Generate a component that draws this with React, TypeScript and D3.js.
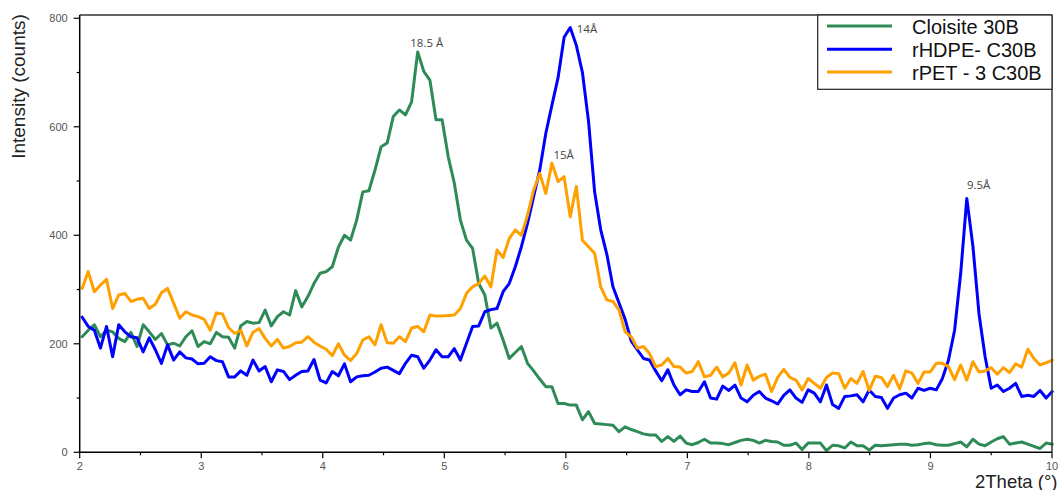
import React from "react";
import * as d3 from "d3";

// Scan definition (2Theta, degrees)
const SCAN_START = 2.02;
const SCAN_STEP = 0.0502;

const seriesNames = ["Cloisite 30B", "rHDPE- C30B", "rPET - 3 C30B"];
const seriesColors = ["#2E8B57", "#0000FF", "#FFA000"];

const cloisite = [
  213, 225, 235, 213, 225, 222, 210, 204, 221, 195, 235, 222, 208, 219, 198, 201, 196, 213, 224, 195,
  204, 200, 221, 213, 212, 192, 233, 241, 238, 239, 262, 233, 250, 259, 253, 298, 268, 287, 311, 330,
  333, 342, 378, 400, 391, 428, 480, 482, 520, 563, 570, 619, 631, 622, 646, 738, 702, 686, 613, 613,
  545, 496, 428, 391, 376, 311, 290, 229, 238, 207, 173, 184, 195, 164, 150, 135, 121, 121, 90, 90,
  87, 87, 60, 75, 53, 52, 51, 50, 38, 47, 42, 38, 34, 32, 32, 20, 29, 20, 30, 17,
  14, 18, 24, 17, 17, 16, 14, 18, 22, 24, 22, 17, 22, 20, 19, 13, 13, 17, 5, 17,
  17, 17, 3, 13, 12, 8, 19, 12, 12, 4, 13, 12, 13, 14, 15, 15, 13, 14, 16, 17,
  14, 13, 13, 16, 19, 10, 24, 15, 12, 19, 25, 29, 15, 17, 19, 15, 11, 7, 17, 15,
];

const rhdpe = [
  249, 232, 225, 192, 232, 176, 235, 222, 213, 211, 185, 211, 189, 164, 198, 170, 185, 174, 172, 163,
  164, 176, 169, 167, 139, 139, 150, 142, 170, 150, 158, 130, 152, 149, 134, 142, 149, 150, 171, 133,
  128, 149, 141, 163, 130, 139, 141, 142, 148, 155, 157, 151, 145, 164, 179, 176, 155, 170, 189, 176,
  176, 191, 170, 201, 232, 233, 259, 263, 265, 296, 311, 342, 379, 422, 471, 520, 588, 640, 690, 765,
  783, 750, 700, 610, 480, 410, 365, 305, 275, 245, 205, 189, 173, 170, 150, 132, 152, 124, 106, 115,
  112, 112, 130, 100, 98, 122, 114, 124, 100, 93, 105, 112, 100, 95, 89, 105, 115, 100, 92, 115,
  109, 93, 124, 88, 81, 103, 104, 106, 93, 115, 103, 101, 81, 100, 106, 109, 100, 118, 114, 118,
  115, 136, 170, 225, 330, 468, 380, 255, 176, 118, 124, 112, 118, 127, 103, 105, 103, 114, 100, 112,
];

const rpet = [
  302, 333, 296, 308, 319, 265, 290, 293, 278, 282, 284, 265, 273, 294, 302, 275, 247, 259, 253, 250,
  245, 225, 257, 255, 230, 219, 225, 196, 221, 228, 210, 196, 208, 192, 195, 202, 203, 213, 203, 196,
  190, 178, 200, 179, 169, 182, 207, 213, 198, 235, 202, 201, 213, 204, 229, 232, 222, 253, 251, 251,
  252, 253, 265, 293, 305, 311, 325, 305, 373, 359, 394, 410, 400, 437, 483, 514, 477, 533, 499, 508,
  434, 490, 391, 379, 367, 305, 281, 278, 262, 222, 213, 192, 195, 182, 158, 161, 173, 158, 157, 146,
  149, 167, 139, 142, 157, 139, 146, 165, 124, 161, 133, 140, 144, 112, 138, 153, 138, 133, 115, 136,
  127, 118, 138, 146, 145, 118, 136, 127, 149, 114, 140, 138, 121, 142, 117, 150, 146, 127, 148, 148,
  164, 164, 158, 134, 161, 133, 167, 148, 150, 156, 144, 156, 147, 163, 157, 190, 173, 161, 165, 170,
];

const allSeries = [cloisite, rhdpe, rpet];

const yTicks = [0, 200, 400, 600, 800];
const yMinorTicks = [100, 300, 500, 700];
const xTicks = [2, 3, 4, 5, 6, 7, 8, 9, 10];
const xMinorTicks = [2.5, 3.5, 4.5, 5.5, 6.5, 7.5, 8.5, 9.5];

const annotationTexts = ["18.5 Å", "14Å", "15Å", "9.5Å"];
const annotationX = [4.856, 6.09, 5.898, 9.3];
const annotationY = [747, 773, 541, 485];
const annotationAnchor = ["middle", "start", "start", "start"];

const xLabel = "2Theta (°)";
const yLabel = "Intensity (counts)";

export default function App() {
  const W = 1058;
  const H = 490;
  const left = 79.7;
  const right = 1052;
  const top = 15;
  const bottom = 452.3;

  const x = d3.scaleLinear().domain([2, 10]).range([left, right]);
  const y = d3.scaleLinear().domain([0, 806]).range([bottom, top]);

  const line = d3
    .line<number>()
    .x((_, i) => x(SCAN_START + i * SCAN_STEP))
    .y((d) => y(d));

  const tickFont = "Liberation Sans, Arial, sans-serif";
  const legendX = 817.7;
  const legendBottom = 89.3;
  const legendRowY = [26, 49.3, 72];
  const legendTextY = [34, 57, 79.5];

  return (
    <svg
      width={W}
      height={H}
      style={{ position: "absolute", left: 0, top: 0, background: "#fff" }}
    >
      <rect x={0} y={0} width={W} height={H} fill="#fff" />
      {/* data lines */}
      <g fill="none" strokeWidth={3} strokeLinejoin="round" strokeLinecap="round">
        {allSeries.map((s, i) => (
          <path key={i} d={line(s) || ""} stroke={seriesColors[i]} />
        ))}
      </g>

      {/* frame top/right */}
      <line x1={left} x2={right} y1={top} y2={top} stroke="#333" strokeWidth={1.5} />
      <line x1={right} x2={right} y1={top} y2={bottom} stroke="#333" strokeWidth={1.5} />

      {/* axes */}
      <line x1={left} x2={left} y1={top} y2={bottom} stroke="#000" strokeWidth={1.5} />
      <line x1={left} x2={right} y1={bottom} y2={bottom} stroke="#000" strokeWidth={1.5} />

      {yTicks.map((t) => (
        <g key={"y" + t}>
          <line x1={left - 6} x2={left} y1={y(t)} y2={y(t)} stroke="#000" strokeWidth={1.2} />
          <text
            x={left - 12}
            y={y(t)}
            dy="0.35em"
            textAnchor="end"
            fontSize={11}
            fill="#555"
            fontFamily={tickFont}
          >
            {t}
          </text>
        </g>
      ))}
      {yMinorTicks.map((t) => (
        <line key={"ym" + t} x1={left - 3} x2={left} y1={y(t)} y2={y(t)} stroke="#000" strokeWidth={1.2} />
      ))}
      {xTicks.map((t) => (
        <g key={"x" + t}>
          <line x1={x(t)} x2={x(t)} y1={bottom} y2={bottom + 6} stroke="#000" strokeWidth={1.2} />
          <text
            x={x(t)}
            y={bottom + 14}
            dy="0.35em"
            textAnchor="middle"
            fontSize={11}
            fill="#555"
            fontFamily={tickFont}
          >
            {t}
          </text>
        </g>
      ))}
      {xMinorTicks.map((t) => (
        <line key={"xm" + t} x1={x(t)} x2={x(t)} y1={bottom} y2={bottom + 3} stroke="#000" strokeWidth={1.2} />
      ))}

      {/* axis titles */}
      <text
        transform={`translate(25,86.5) rotate(-90)`}
        textAnchor="middle"
        fontSize={19}
        fill="#222"
        fontFamily={tickFont}
      >
        {yLabel}
      </text>
      <text x={975} y={488} fontSize={18.5} fill="#222" fontFamily={tickFont}>
        {xLabel}
      </text>

      {/* annotations */}
      {annotationTexts.map((t, i) => (
        <text
          key={"a" + i}
          x={x(annotationX[i])}
          y={y(annotationY[i])}
          textAnchor={annotationAnchor[i] as any}
          fontSize={11.5}
          fill="#444"
          fontFamily="Open Sans, DejaVu Sans, sans-serif"
        >
          {t}
        </text>
      ))}

      {/* legend */}
      <rect
        x={legendX}
        y={top}
        width={right - legendX}
        height={legendBottom - top}
        fill="#fff"
        stroke="#222"
        strokeWidth={1.2}
      />
      {seriesNames.map((n, i) => (
        <g key={"l" + i}>
          <line
            x1={827}
            x2={892}
            y1={legendRowY[i]}
            y2={legendRowY[i]}
            stroke={seriesColors[i]}
            strokeWidth={3}
          />
          <text x={912} y={legendTextY[i]} fontSize={20} fill="#111" fontFamily={tickFont}>
            {n}
          </text>
        </g>
      ))}
    </svg>
  );
}
